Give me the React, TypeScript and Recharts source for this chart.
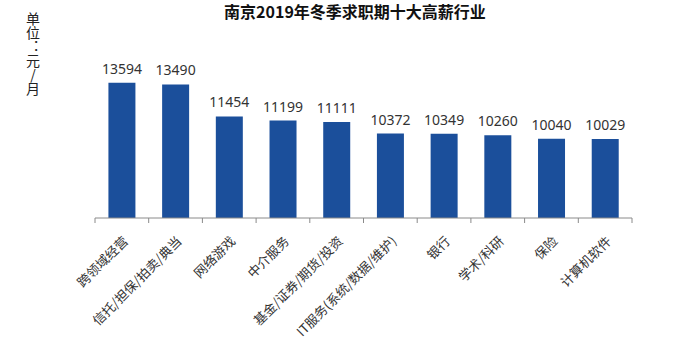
import { BarChart, Bar, XAxis, YAxis, LabelList } from "recharts";

const industries = [
  "跨领域经营",
  "信托/担保/拍卖/典当",
  "网络游戏",
  "中介服务",
  "基金/证券/期货/投资",
  "IT服务(系统/数据/维护)",
  "银行",
  "学术/科研",
  "保险",
  "计算机软件",
];
const salaries = [13594, 13490, 11454, 11199, 11111, 10372, 10349, 10260, 10040, 10029];

const title = "南京2019年冬季求职期十大高薪行业";
const unitLabel = "单位：元/月";

const data = industries.map((name, i) => ({ name, salary: salaries[i] }));

const FONT = "'Noto Sans CJK SC', 'Noto Sans', sans-serif";
const BAND = 537 / industries.length;

function IndustryTick(props: any) {
  const { x, y, payload, index } = props;
  const last = index === industries.length - 1;
  return (
    <g>
      <line x1={x - BAND / 2} y1={y - 8} x2={x - BAND / 2} y2={y - 3} stroke="#8a8a8a" />
      {last && <line x1={x + BAND / 2} y1={y - 8} x2={x + BAND / 2} y2={y - 3} stroke="#8a8a8a" />}
      <text
        x={x + 7}
        y={y + 16}
        textAnchor="end"
        transform={`rotate(-45, ${x + 7}, ${y + 16})`}
        fontSize={13}
        fill="#333"
        fontFamily={FONT}
      >
        {payload.value}
      </text>
    </g>
  );
}

export default function App() {
  return (
    <div style={{ position: "absolute", left: 0, top: 0, width: 683, height: 347, background: "#fff" }}>
      <BarChart
        width={683}
        height={347}
        data={data}
        margin={{ top: 45, right: 51, bottom: 0, left: 95 }}
        barCategoryGap="25%"
      >
        <text x={355} y={18} textAnchor="middle" fontSize={16} fontWeight="bold" fill="#111" fontFamily={FONT}>
          {title}
        </text>
        <text
          x={33}
          y={12}
          fontSize={14}
          fill="#222"
          fontFamily={FONT}
          style={{ writingMode: "vertical-rl", textOrientation: "upright" } as any}
        >
          {unitLabel}
        </text>
        <XAxis
          dataKey="name"
          interval={0}
          tickLine={false}
          axisLine={{ stroke: "#8a8a8a" }}
          tick={<IndustryTick />}
          height={129}
        />
        <YAxis hide domain={[5000, 16000]} />
        <Bar dataKey="salary" fill="#1B4F9B" isAnimationActive={false}>
          <LabelList
            dataKey="salary"
            position="top"
            offset={9}
            fontSize={14}
            fill="#333"
            fontFamily="'Noto Sans', sans-serif"
          />
        </Bar>
      </BarChart>
    </div>
  );
}
